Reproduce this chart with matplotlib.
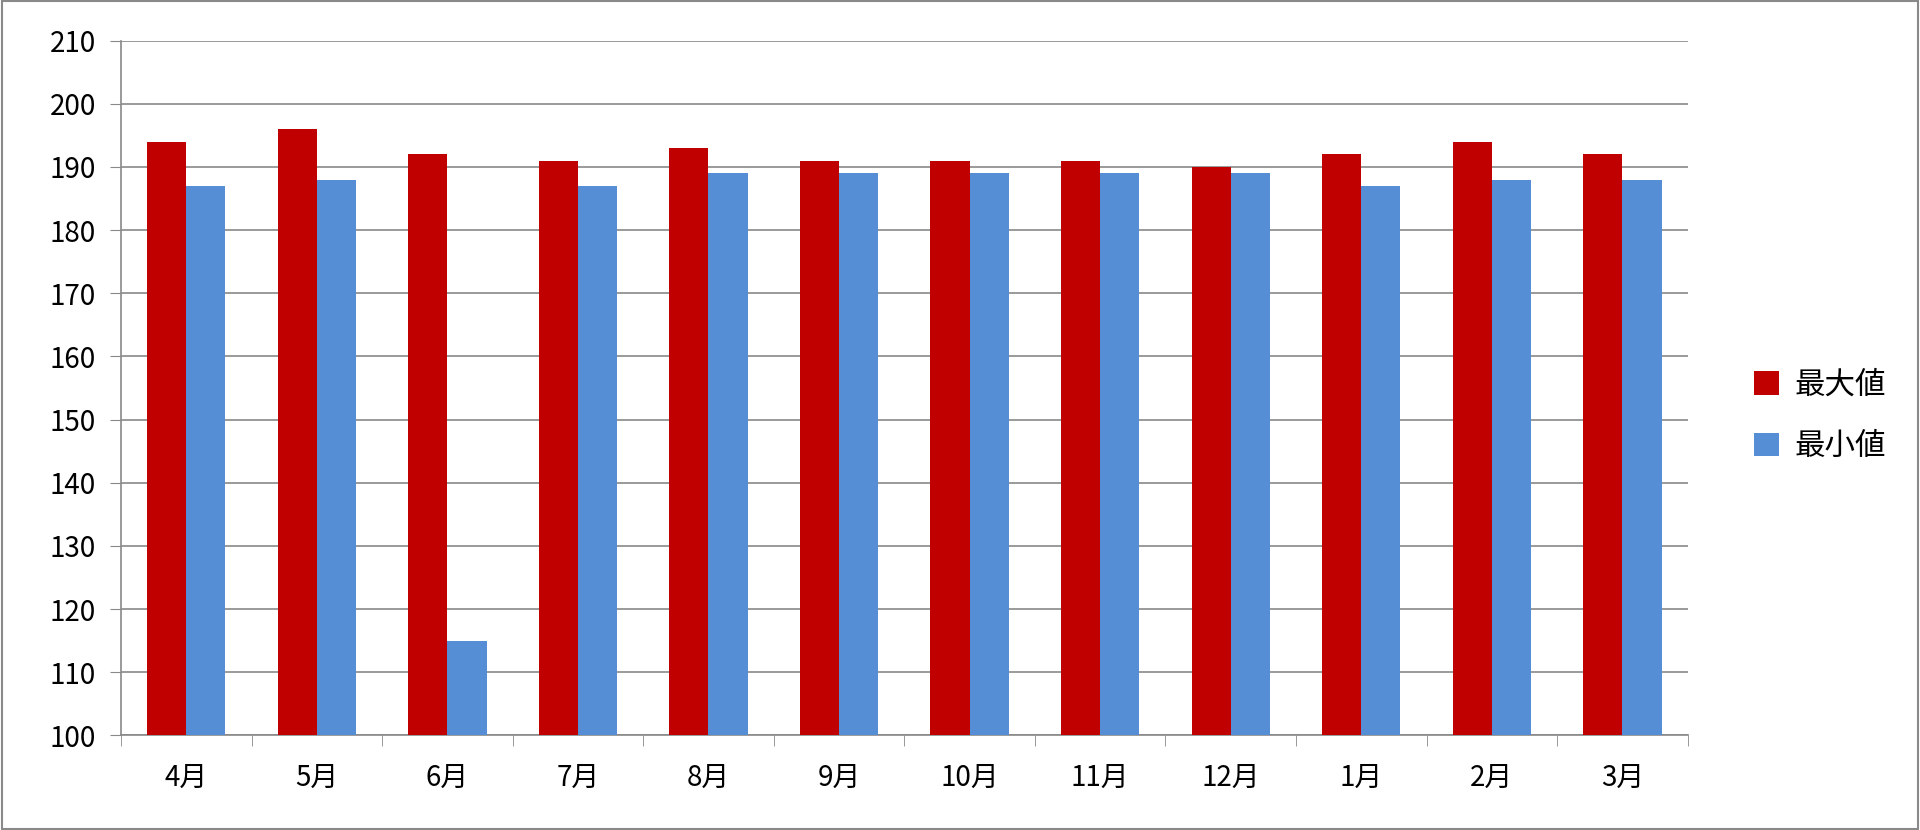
import matplotlib
matplotlib.use("Agg")
import matplotlib.pyplot as plt
import numpy as np

plt.rcParams['font.family'] = ['Noto Sans CJK JP', 'DejaVu Sans']

months = ["4月","5月","6月","7月","8月","9月","10月","11月","12月","1月","2月","3月"]
max_vals = [194,196,192,191,193,191,191,191,190,192,194,192]
min_vals = [187,188,115,187,189,189,189,189,189,187,188,188]
yticks = list(range(100, 211, 10))

fig = plt.figure(figsize=(19.2, 8.3), dpi=100)
ax = fig.add_axes([0.063, 0.114, 0.816, 0.837])
x = np.arange(len(months))
w = 0.3
ax.bar(x - w/2, np.array(max_vals) - 100, w, bottom=100, color="#C00000", label="最大値", zorder=3)
ax.bar(x + w/2, np.array(min_vals) - 100, w, bottom=100, color="#558ED5", label="最小値", zorder=3)
ax.set_ylim(100, 210)
ax.set_xlim(-0.5, len(months) - 0.5)
ax.set_yticks(yticks)
ax.yaxis.grid(True, color="#898989", lw=1.2, zorder=0)
ax.set_xticks(x)
ax.set_xticklabels(months, fontsize=20)
ax.set_xticks(np.arange(-0.5, len(months)), minor=True)
ax.tick_params(axis='x', which='major', length=0, pad=20)
ax.tick_params(axis='x', which='minor', length=8, color="#898989", direction='out')
ax.tick_params(axis='y', labelsize=20, length=8, color="#898989", direction='out', pad=10)
for s in ["top", "right"]:
    ax.spines[s].set_visible(False)
for s in ["left", "bottom"]:
    ax.spines[s].set_color("#898989")
    ax.spines[s].set_linewidth(1.2)
ax.legend(loc="center left", bbox_to_anchor=(1.025, 0.46), frameon=False, fontsize=22,
          handlelength=0.8, handleheight=0.8, handletextpad=0.5, labelspacing=1.0)
fig.add_artist(plt.Rectangle((0.001, 0.001), 0.998, 0.998, transform=fig.transFigure,
                             fill=False, edgecolor="#898989", lw=1.5))
fig.savefig("out.png", dpi=100)
